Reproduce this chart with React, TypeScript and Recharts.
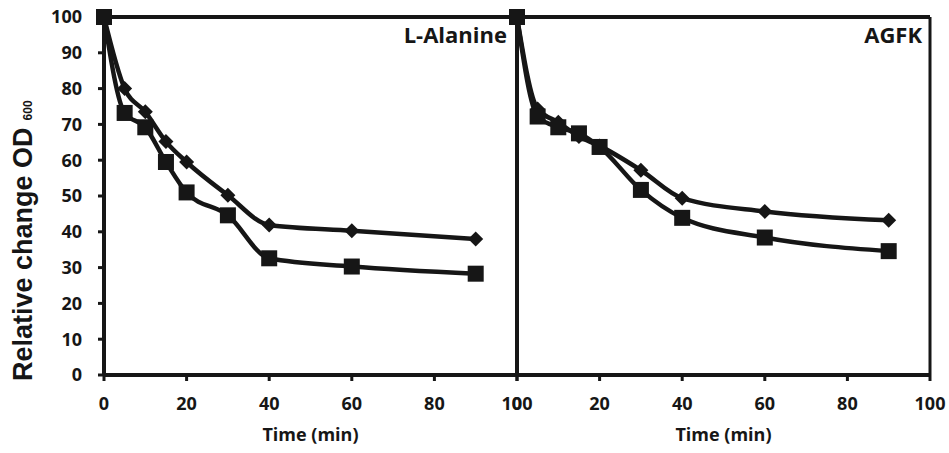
import { LineChart, Line, XAxis, YAxis, ReferenceLine, Label } from 'recharts';

const times = [0, 5, 10, 15, 20, 30, 40, 60, 90];
const alanineDiamond = [100, 80, 73.5, 65.2, 59.5, 50.2, 41.9, 40.3, 38];
const alanineSquare = [100, 73.2, 69.2, 59.5, 51, 44.6, 32.6, 30.3, 28.3];
const agfkDiamond = [100, 74.3, 70.6, 66.6, 64, 57.2, 49.4, 45.7, 43.2];
const agfkSquare = [100, 72.2, 69.2, 67.5, 63.7, 51.7, 43.9, 38.4, 34.6];
const xTicks = [0, 20, 40, 60, 80, 100];
const yTicks = [0, 10, 20, 30, 40, 50, 60, 70, 80, 90, 100];

const INK = '#161616';
const tickFont = { fontFamily: '"Open Sans", sans-serif', fontWeight: 700, fontSize: 18, fill: INK };

const build = (d: number[], s: number[]) => times.map((t, i) => ({ time: t, diamond: d[i], square: s[i] }));
const alanineData = build(alanineDiamond, alanineSquare);
const agfkData = build(agfkDiamond, agfkSquare);

const Square = (props: any) => {
  const { cx, cy } = props;
  if (cx == null || cy == null) return <g />;
  return <rect x={cx - 8} y={cy - 8} width={16} height={16} fill={INK} />;
};

const Diamond = (props: any) => {
  const { cx, cy } = props;
  if (cx == null || cy == null) return <g />;
  const r = 7.5;
  return <polygon points={`${cx},${cy - r} ${cx + r},${cy} ${cx},${cy + r} ${cx - r},${cy}`} fill={INK} />;
};

const PanelTitle = ({ viewBox, value, dx }: any) => {
  if (!viewBox) return null;
  return (
    <text
      x={viewBox.x + viewBox.width - dx}
      y={viewBox.y + 26}
      textAnchor="end"
      style={{ fontFamily: '"Open Sans", sans-serif', fontWeight: 700, fontSize: 22, fill: INK }}
    >
      {value}
    </text>
  );
};

const YTitle = () => (
  <text
    x={32}
    y={381}
    transform="rotate(-90, 32, 381)"
    style={{ fontFamily: '"Liberation Sans", Arial, sans-serif', fontWeight: 700, fontSize: 27, fill: INK }}
  >
    Relative change OD
    <tspan dx={7} style={{ fontSize: 12 }}>600</tspan>
  </text>
);

function Panel({ data, title, titleDx, showYLabels, width, margin, yWidth }: any) {
  return (
    <LineChart width={width} height={453} data={data} margin={margin}>
      <XAxis
        dataKey="time"
        type="number"
        domain={[0, 100]}
        ticks={xTicks}
        interval={0}
        stroke={INK}
        strokeWidth={4}
        tickSize={6}
        tickMargin={16}
        tickLine={{ stroke: INK, strokeWidth: 3 }}
        tick={tickFont}
        height={78}
      >
        <Label
          value="Time (min)"
          position="insideBottom"
          offset={12}
          style={{ fontFamily: '"Open Sans", sans-serif', fontWeight: 700, fontSize: 18, fill: INK }}
        />
      </XAxis>
      <YAxis
        type="number"
        domain={[0, 100]}
        ticks={yTicks}
        interval={0}
        width={yWidth}
        stroke={INK}
        strokeWidth={4}
        tickSize={6}
        tickMargin={16}
        tickLine={{ stroke: INK, strokeWidth: 3 }}
        tick={showYLabels ? tickFont : false}
      >
        {showYLabels && <Label content={<YTitle />} />}
      </YAxis>
      <ReferenceLine
        y={100}
        stroke={INK}
        strokeWidth={4}
        label={<PanelTitle value={title} dx={titleDx} />}
      />
      {!showYLabels && <ReferenceLine x={100} stroke={INK} strokeWidth={3} />}
      <Line
        type="monotone"
        dataKey="diamond"
        stroke={INK}
        strokeWidth={4.5}
        dot={<Diamond />}
        activeDot={false}
        isAnimationActive={false}
      />
      <Line
        type="monotone"
        dataKey="square"
        stroke={INK}
        strokeWidth={4.5}
        dot={<Square />}
        activeDot={false}
        isAnimationActive={false}
      />
    </LineChart>
  );
}

export default function App() {
  return (
    <div style={{ position: 'absolute', left: 0, top: 0, width: 949, height: 453, background: '#fff', overflow: 'hidden' }}>
      <div style={{ position: 'absolute', left: 0, top: 0 }}>
        <Panel
          data={alanineData}
          title="L-Alanine"
          titleDx={10}
          showYLabels
          width={545}
          yWidth={104}
          margin={{ top: 17, right: 28, bottom: 0, left: 0 }}
        />
      </div>
      <div style={{ position: 'absolute', left: 480, top: 0 }}>
        <Panel
          data={agfkData}
          title="AGFK"
          titleDx={8}
          showYLabels={false}
          width={469}
          yWidth={37}
          margin={{ top: 17, right: 19, bottom: 0, left: 0 }}
        />
      </div>
    </div>
  );
}
